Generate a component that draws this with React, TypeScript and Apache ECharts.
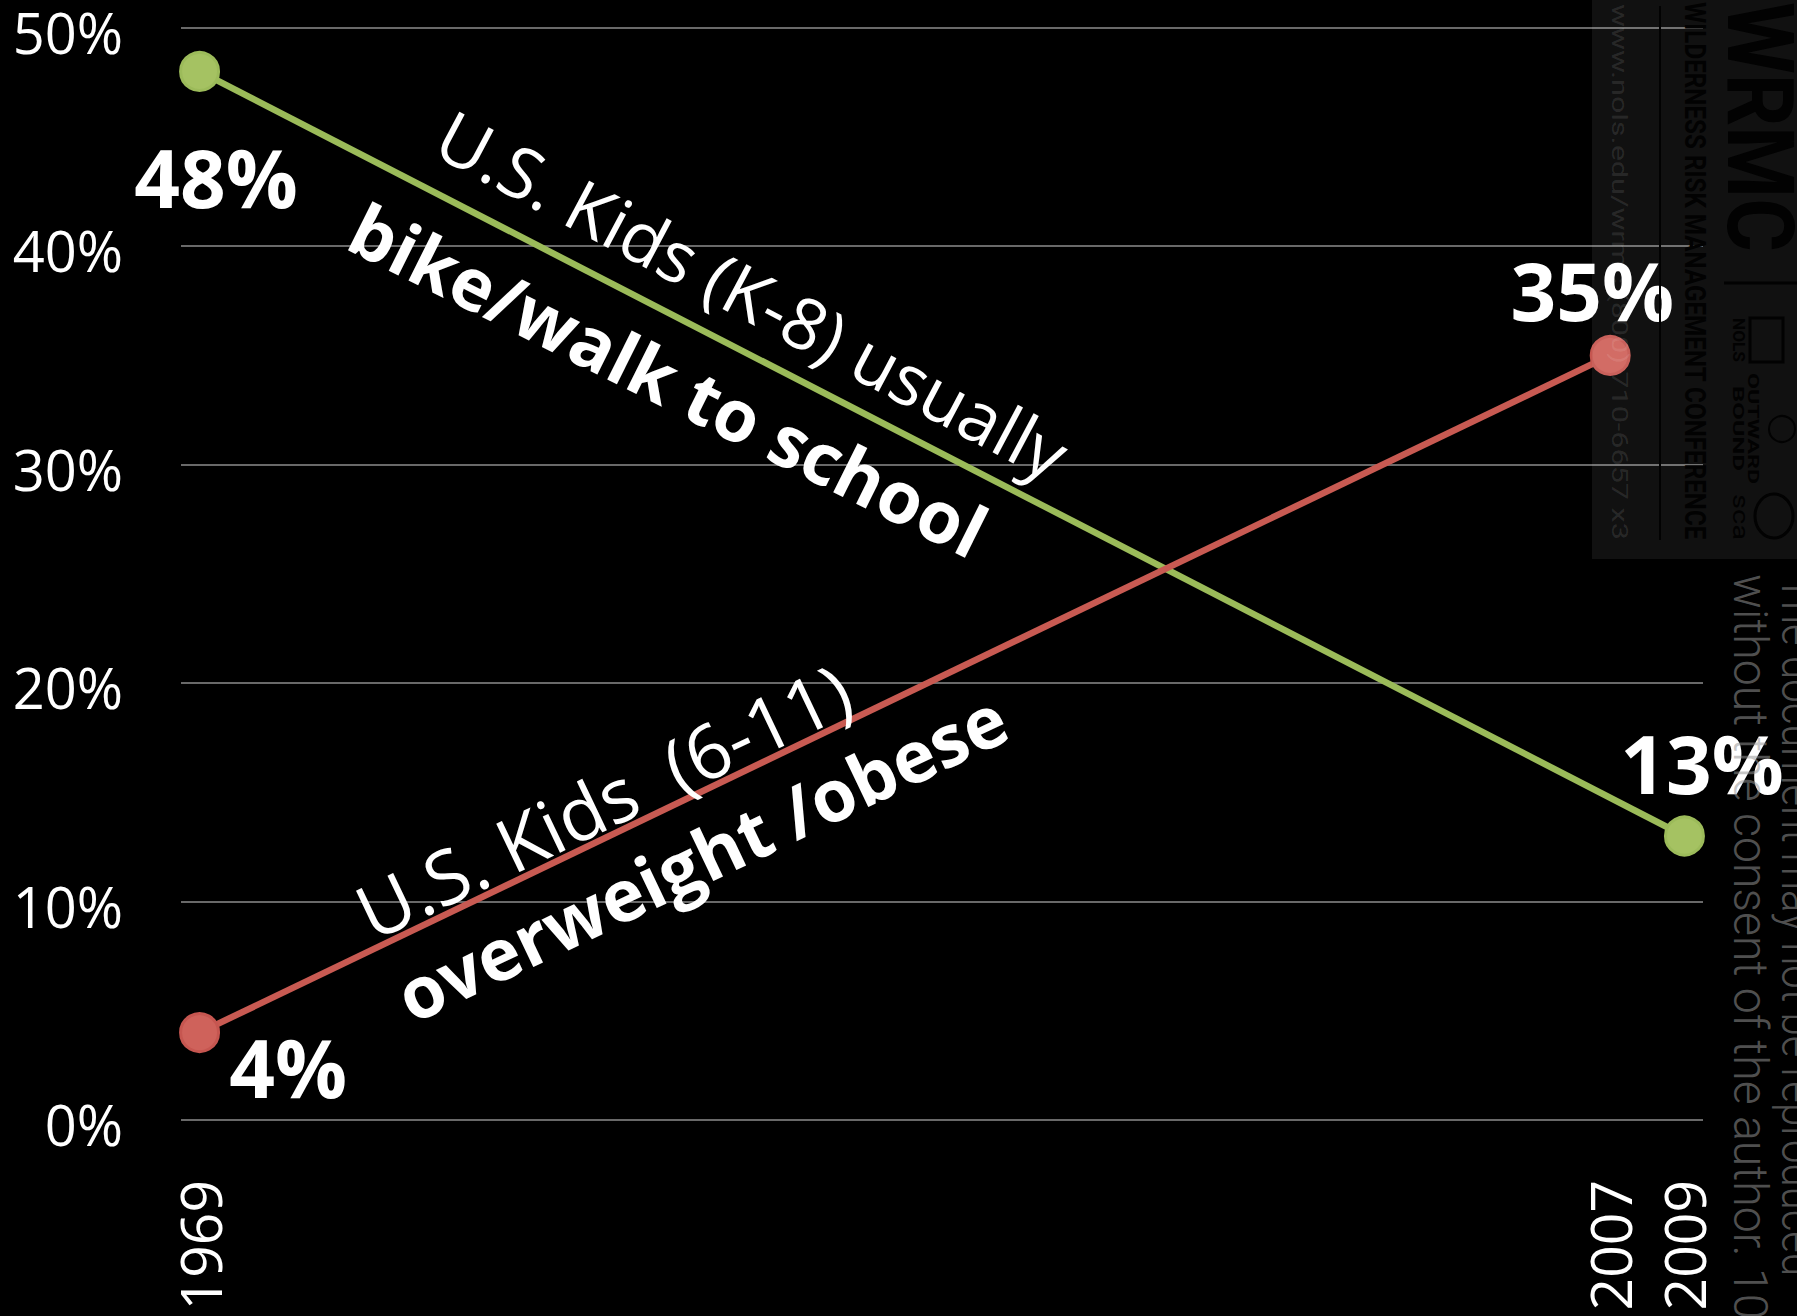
import React, { useEffect, useRef } from "react";
import * as echarts from "echarts";

// ---------- data ----------
const firstYear = 1969;
const lastYear = 2009;
const yearCategories: string[] = [];
for (let y = firstYear; y <= lastYear; y++) yearCategories.push(String(y));
const labeledYears = ["1969", "2007", "2009"];

const yTickValues = [0, 10, 20, 30, 40, 50];

const walkYears = ["1969", "2009"];
const walkValues = [48, 13];
const obeseYears = ["1969", "2007"];
const obeseValues = [4, 35];

const walkTitle = "U.S. Kids (K-8) usually";
const walkSubtitle = "bike/walk to school";
const obeseTitle = "U.S. Kids  (6-11)";
const obeseSubtitle = "overweight /obese";

const wmLine1 = "The document may not be reproduced";
const wmLine2 = "without the consent of the author. 10";
const wmLine2Ref = "without the consent of the author.";
const wmUrl = "www.nols.edu/wrmc (800) 710-6657 x3";
const wmConf = "WILDERNESS RISK MANAGEMENT CONFERENCE";
const wmLogo = "WRMC";

// ---------- styles / layout ----------
const walkLabelOffsets = [
  [16.5, 105],
  [17.5, -73.5],
];
const obeseLabelOffsets = [
  [88.5, 34],
  [-18, -65.5],
];

const FONT = "'Open Sans', 'Noto Sans', sans-serif";
const RC = 0.342; // Roboto central-baseline offset (em)

function measure(text: string, font: string): number {
  const c = document.createElement("canvas").getContext("2d");
  if (!c) return text.length * 10;
  c.font = font;
  return c.measureText(text).width;
}

function vtext(
  text: string,
  baseX: number,
  startY: number,
  length: number,
  fontSize: number,
  fontWeight: string,
  fill: string,
  refText?: string
) {
  const w = measure(refText ?? text, `${fontWeight} ${fontSize}px Roboto`);
  return {
    type: "text",
    x: baseX + RC * fontSize,
    y: startY,
    rotation: -Math.PI / 2,
    scaleX: length / w,
    scaleY: 1,
    z: 100,
    silent: true,
    style: {
      text,
      fontSize,
      fontWeight,
      fontFamily: "Roboto",
      fill,
      align: "left",
      verticalAlign: "middle",
    },
  };
}

const deg = Math.PI / 180;

function buildOption() {
  const labelBase = {
    show: true,
    position: "inside",
    formatter: (p: any) => `${p.value[1]}%`,
    color: "#ffffff",
    fontSize: 80,
    fontWeight: "bold",
    fontFamily: FONT,
    align: "center",
    verticalAlign: "middle",
  };

  const annotation = (
    text: string,
    x: number,
    y: number,
    angle: number,
    size: number,
    weight: string
  ) => ({
    type: "text",
    x,
    y,
    rotation: angle * deg,
    z: 50,
    silent: true,
    style: {
      text,
      fill: "#ffffff",
      fontSize: size,
      fontWeight: weight,
      fontFamily: FONT,
      align: "center",
      verticalAlign: "middle",
    },
  });

  const wmFill = "rgba(150,150,150,0.55)";

  return {
    animation: false,
    backgroundColor: "#000000",
    grid: {
      left: 181,
      right: 94,
      top: 27.7,
      bottom: 196,
      containLabel: false,
      outerBoundsMode: "none",
    },
    xAxis: {
      type: "category",
      data: yearCategories,
      boundaryGap: true,
      axisLine: { show: false },
      axisTick: { show: false },
      splitLine: { show: false },
      axisLabel: {
        interval: (_i: number, v: string) => labeledYears.includes(v),
        rotate: 90,
        margin: 60,
        color: "#ffffff",
        fontSize: 57,
        fontFamily: FONT,
        padding: [10, 0, 0, 0],
      },
    },
    yAxis: {
      type: "value",
      min: yTickValues[0],
      max: yTickValues[yTickValues.length - 1],
      interval: yTickValues[1] - yTickValues[0],
      axisLine: { show: false },
      axisTick: { show: false },
      splitLine: { lineStyle: { color: "#8c8c8c", width: 1.5 } },
      axisLabel: {
        formatter: "{value}%",
        color: "#ffffff",
        fontSize: 56,
        lineHeight: 8,
        verticalAlign: "top",
        fontFamily: FONT,
        margin: 58,
      },
    },
    series: [
      {
        type: "line",
        name: `${walkTitle} ${walkSubtitle}`,
        data: walkYears.map((y, i) => ({
          value: [yearCategories.indexOf(y), walkValues[i]],
          label: { offset: walkLabelOffsets[i] },
        })),
        symbol: "circle",
        symbolSize: 38,
        lineStyle: { color: "#9bbb59", width: 6.5 },
        itemStyle: { color: "#a5c262", borderColor: "#9cbb5a", borderWidth: 3 },
        label: labelBase,
        emphasis: { disabled: true },
        z: 3,
      },
      {
        type: "line",
        name: `${obeseTitle} ${obeseSubtitle}`,
        data: obeseYears.map((y, i) => ({
          value: [yearCategories.indexOf(y), obeseValues[i]],
          label: { offset: obeseLabelOffsets[i] },
        })),
        symbol: "circle",
        symbolSize: 38,
        lineStyle: { color: "#c85a52", width: 6.5 },
        itemStyle: { color: "#cf625b", borderColor: "#c65650", borderWidth: 3 },
        label: labelBase,
        emphasis: { disabled: true },
        z: 3,
      },
    ],
    graphic: [
      annotation(walkTitle, 753, 294, -28, 71, "normal"),
      annotation(walkSubtitle, 669, 379, -26.5, 72, "bold"),
      annotation(obeseTitle, 603, 800, 25.5, 75, "normal"),
      annotation(obeseSubtitle, 701, 856, 25.5, 72, "bold"),
      // watermark box
      {
        type: "rect",
        z: 99,
        silent: true,
        shape: { x: 1592, y: 0, width: 205, height: 559 },
        style: { fill: "rgba(255,255,255,0.068)" },
      },
      vtext(wmUrl, 1612, 4, 536, 22.5, "normal", "rgba(255,255,255,0.11)"),
      {
        type: "line",
        z: 100,
        silent: true,
        shape: { x1: 1660, y1: 6, x2: 1660, y2: 540 },
        style: { stroke: "#020202", lineWidth: 2 },
      },
      vtext(wmConf, 1685, 2, 538, 30, "bold", "#020202"),
      vtext(wmLogo, 1728, 2, 250, 92, "bold", "#020202"),
      {
        type: "line",
        z: 100,
        silent: true,
        shape: { x1: 1724, y1: 283, x2: 1797, y2: 283 },
        style: { stroke: "#020202", lineWidth: 3 },
      },
      vtext("NOLS", 1733, 318, 44, 16, "bold", "#020202"),
      {
        type: "rect",
        z: 100,
        silent: true,
        shape: { x: 1750, y: 318, width: 33, height: 44 },
        style: { fill: "none", stroke: "#020202", lineWidth: 3 },
      },
      vtext("OUTWARD", 1748, 373, 111, 14, "bold", "#020202"),
      vtext("BOUND", 1733, 386, 85, 14, "bold", "#020202"),
      {
        type: "circle",
        z: 100,
        silent: true,
        shape: { cx: 1782, cy: 429, r: 13 },
        style: { fill: "none", stroke: "#020202", lineWidth: 2 },
      },
      vtext("sca", 1733, 494, 46, 22, "normal", "#020202"),
      {
        type: "ellipse",
        z: 100,
        silent: true,
        shape: { cx: 1774, cy: 516, rx: 19, ry: 22 },
        style: { fill: "none", stroke: "#020202", lineWidth: 3 },
      },
      // copyright watermark
      vtext(wmLine1, 1782, 576, 700, 48, "300", wmFill),
      vtext(wmLine2, 1734, 574, 683, 48, "300", wmFill, wmLine2Ref),
    ],
  };
}

export default function App() {
  const ref = useRef<HTMLDivElement>(null);
  useEffect(() => {
    document.body.style.margin = "0";
    document.body.style.background = "#000";
    document.body.style.overflow = "hidden";
    const chart = echarts.init(ref.current as HTMLDivElement, null, { renderer: "svg" });
    chart.setOption(buildOption() as any);
    return () => chart.dispose();
  }, []);
  return <div ref={ref} style={{ width: 1797, height: 1316, background: "#000" }} />;
}
